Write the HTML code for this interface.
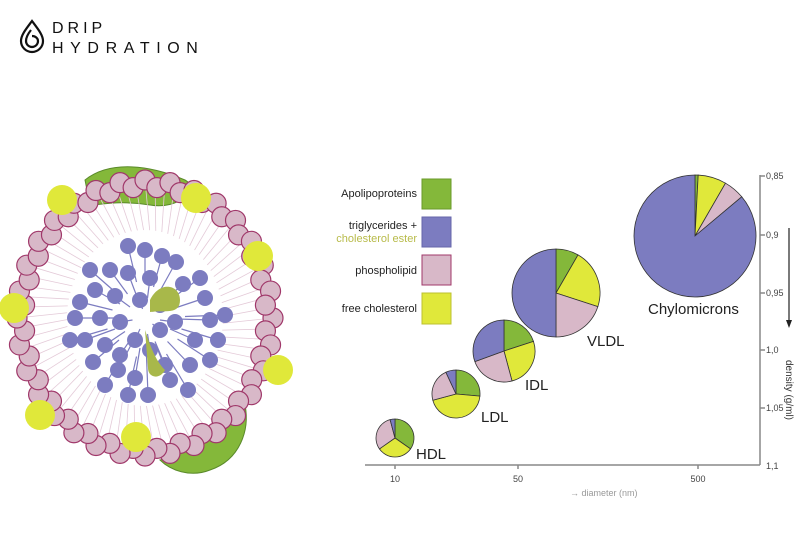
<!DOCTYPE html>
<html><head><meta charset="utf-8"><style>
html,body{margin:0;padding:0;background:#fff;width:800px;height:550px;overflow:hidden}
svg{display:block}
</style></head><body>
<svg id="s" width="800" height="550" viewBox="0 0 800 550" xmlns="http://www.w3.org/2000/svg" font-family="Liberation Sans, sans-serif">
<g fill="none" stroke="#111" stroke-width="2.2">
<path d="M32 21 C26 29 21 35 21 41 A11 11 0 0 0 43 41 C43 35 38 29 32 21 Z"/>
<path d="M31 30 C27 35 26 38 26 41 A6 6 0 0 0 38 41 C38 38 35 36 32 36"/>
</g>
<text x="52" y="33" font-size="16" letter-spacing="4" fill="#111">DRIP</text>
<text x="52" y="53" font-size="16" letter-spacing="6.6" fill="#111">HYDRATION</text>
<g id="particle"></g>
<g stroke="#888" stroke-width="1.5" fill="none">
<line x1="365" y1="465" x2="760" y2="465"/>
<line x1="760" y1="175" x2="760" y2="465"/>
<line x1="760" y1="176" x2="765" y2="176"/><line x1="760" y1="235" x2="765" y2="235"/>
<line x1="760" y1="293" x2="765" y2="293"/><line x1="760" y1="350" x2="765" y2="350"/>
<line x1="760" y1="408" x2="765" y2="408"/>
<line x1="395" y1="465" x2="395" y2="469"/><line x1="518" y1="465" x2="518" y2="469"/><line x1="698" y1="465" x2="698" y2="469"/>
</g>
<g font-size="9" fill="#444">
<text x="766" y="179">0,85</text><text x="766" y="238">0,9</text><text x="766" y="296">0,95</text>
<text x="766" y="353">1,0</text><text x="766" y="411">1,05</text><text x="766" y="469">1,1</text>
<text x="395" y="482" text-anchor="middle">10</text><text x="518" y="482" text-anchor="middle">50</text><text x="698" y="482" text-anchor="middle">500</text>
<text x="570" y="496" fill="#999">→ diameter (nm)</text>
</g>
<line x1="789" y1="228" x2="789" y2="322" stroke="#222" stroke-width="1.2"/>
<path d="M786 320 L792 320 L789 328 Z" fill="#222"/>
<text transform="translate(786,360) rotate(90)" font-size="10" fill="#333">density (g/ml)</text>
<g font-size="11" fill="#222" text-anchor="end">
<text x="417" y="197">Apolipoproteins</text>
<text x="417" y="229">triglycerides +</text>
<text x="417" y="242" fill="#b8bb4a">cholesterol ester</text>
<text x="417" y="274">phospholipid</text>
<text x="417" y="312">free cholesterol</text>
</g>
<rect x="422" y="179" width="29" height="30" fill="#84b83a" stroke="#6a9a2a"/>
<rect x="422" y="217" width="29" height="30" fill="#7c7cc0" stroke="#6666aa"/>
<rect x="422" y="255" width="29" height="30" fill="#d8b8c8" stroke="#a0386a"/>
<rect x="422" y="293" width="29" height="31" fill="#e0e83a" stroke="#bcc030"/>
<g id="pies"></g>
<g font-size="15" fill="#222">
<text x="648" y="314">Chylomicrons</text>
<text x="587" y="346">VLDL</text>
<text x="525" y="390">IDL</text>
<text x="481" y="422">LDL</text>
<text x="416" y="459">HDL</text>
</g>
</svg>
<script>
var NS="http://www.w3.org/2000/svg";
function el(p,t,a){var e=document.createElementNS(NS,t);for(var k in a)e.setAttribute(k,a[k]);p.appendChild(e);return e;}
var G="#84b83a",B="#7c7cc0",P="#d8b8c8",Y="#e0e83a";
var pies=document.getElementById("pies");
function pie(cx,cy,r,sl){var a=0;sl.forEach(function(s){var a2=s[0];var t1=(a-90)*Math.PI/180,t2=(a2-90)*Math.PI/180;
var large=(a2-a)>180?1:0;
el(pies,"path",{d:"M"+cx+" "+cy+" L"+(cx+r*Math.cos(t1))+" "+(cy+r*Math.sin(t1))+" A"+r+" "+r+" 0 "+large+" 1 "+(cx+r*Math.cos(t2))+" "+(cy+r*Math.sin(t2))+" Z",fill:s[1],stroke:"#333","stroke-width":"0.8"});a=a2;});}
pie(695,236,61,[[3,G],[30,Y],[50,P],[360,B]]);
pie(556,293,44,[[30,G],[108,Y],[180,P],[360,B]]);
pie(504,351,31,[[72,G],[165,Y],[250,P],[360,B]]);
pie(456,394,24,[[95,G],[255,Y],[335,P],[360,B]]);
pie(395,438,19,[[125,G],[235,Y],[345,P],[360,B]]);
var g=document.getElementById("particle");
var cx=145,cy=318,rx=128,ry=138;
el(g,"path",{d:"M85 180 C110 160 150 165 185 180 C200 188 180 210 150 205 C120 200 100 205 90 205 Z",fill:G,stroke:"#5a8a2a"});
el(g,"path",{d:"M245 405 C250 430 240 460 210 470 C190 478 170 470 160 460 C185 455 210 440 225 420 Z",fill:G,stroke:"#5a8a2a"});
for(var i=0;i<80;i++){var t=i/80*2*Math.PI;var x1=cx+rx*Math.cos(t),y1=cy+ry*Math.sin(t);
var x2=cx+(rx-50)*Math.cos(t+0.06),y2=cy+(ry-50)*Math.sin(t+0.06);
el(g,"line",{x1:x1,y1:y1,x2:x2,y2:y2,stroke:"#e4cad8","stroke-width":"0.8"});}
var bp=[[128,246],[145,250],[162,256],[110,270],[128,273],[150,278],[176,262],[183,284],[95,290],[115,296],[205,298],[80,302],[100,318],[210,320],[120,322],[160,305],[175,322],[85,340],[105,345],[135,340],[195,340],[218,340],[93,362],[118,370],[165,365],[190,365],[210,360],[105,385],[135,378],[148,395],[170,380],[188,390],[75,318],[140,300],[120,355],[150,350],[200,278],[90,270],[225,315],[70,340],[160,330],[128,395]];
bp.forEach(function(p){el(g,"line",{x1:p[0],y1:p[1],x2:(p[0]+145)/2,y2:(p[1]+318)/2,stroke:"#7c7cc0","stroke-width":"1.2"});});
bp.forEach(function(p){el(g,"circle",{cx:p[0],cy:p[1],r:8,fill:B});});
el(g,"path",{d:"M150 300 C160 280 180 285 180 300 C180 315 165 310 150 312 Z",fill:"#a8b84a"});
el(g,"path",{d:"M145 330 C150 345 155 360 165 370 C160 380 148 378 148 368 Z",fill:"#a8b84a"});
for(var i=0;i<64;i++){var t=i/64*2*Math.PI;var jit=(i%2)*7;
var x=cx+(rx-jit)*Math.cos(t),y=cy+(ry-jit)*Math.sin(t);
el(g,"circle",{cx:x,cy:y,r:10,fill:"#d8b8c8",stroke:"#a0386a","stroke-width":"1.2"});}
[[62,200],[196,198],[258,256],[14,308],[278,370],[40,415],[136,437]].forEach(function(p){el(g,"circle",{cx:p[0],cy:p[1],r:15,fill:Y});});
</script>
</body></html>
